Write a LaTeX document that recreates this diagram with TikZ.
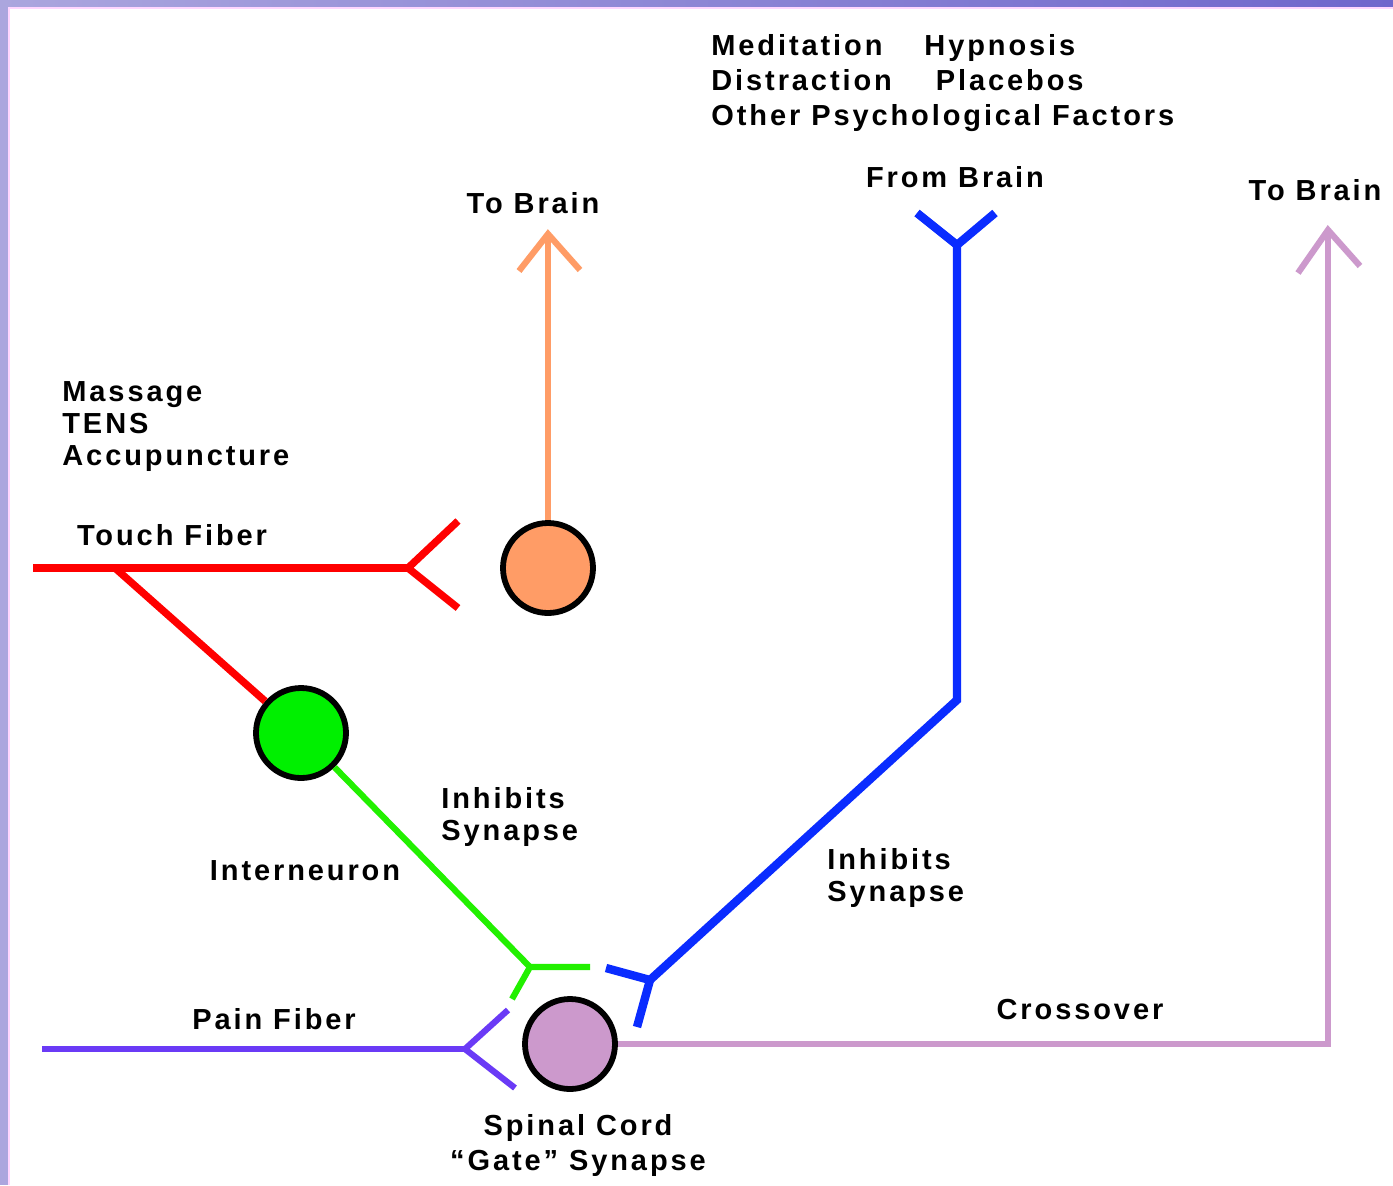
\documentclass[tikz,border=0pt]{standalone}
\usepackage{fontspec}
\setmainfont{Liberation Sans}[LetterSpace=10]
\usetikzlibrary{positioning}

\definecolor{touchred}{HTML}{FF0000}
\definecolor{projorange}{HTML}{FF9C66}
\definecolor{intergreen}{HTML}{22F000}
\definecolor{cellgreen}{HTML}{00F000}
\definecolor{brainblue}{HTML}{0A2CFF}
\definecolor{painpurple}{HTML}{6A3AF6}
\definecolor{gatelilac}{HTML}{CC99CC}
\definecolor{frameA}{HTML}{ABA6DE}
\definecolor{frameB}{HTML}{6F66CC}
\definecolor{framepink}{HTML}{FFD6FF}

\begin{document}
\begin{tikzpicture}[x=0.5pt,y=-0.5pt,
	fiber/.style={line width=3.7pt,line join=miter},
	cellnode/.style={circle,draw=black,line width=2.9pt,minimum size=45pt,inner sep=0pt},
	textnode/.style={inner sep=0pt,font=\fontsize{14.5}{17.5}\selectfont\bfseries}]
	
	% frame
	\useasboundingbox (0,0) rectangle (1393,1185);
	\fill[frameA] (0,0) rectangle (1393,1185);
	\shade[left color=frameA,right color=frameB] (0,0) rectangle (1393,8);
	\fill[framepink] (8,7) rectangle (1393,1185);
	\fill[white] (10,9) rectangle (1393,1185);
	
	% cells
	\node [cellnode,fill=projorange] (proj) at (548,568) {};
	\node [cellnode,fill=cellgreen] (inter) at (301,733) {};
	\node [cellnode,fill=gatelilac] (gate) at (570,1044) {};
	
	% touch fiber
	\coordinate (touchL) at (33,568);
	\coordinate (touchB) at (115,568);
	\coordinate (touchY) at (408,568);
	\coordinate (touchU) at (458,521);
	\coordinate (touchD) at (458,608);
	% to brain
	\coordinate (projTip) at (548,234);
	\coordinate (projL) at (519,271);
	\coordinate (projR) at (580,270);
	% interneuron ending
	\coordinate (greenY) at (530,967);
	\coordinate (greenR) at (590,967);
	\coordinate (greenD) at (512,999);
	% from brain
	\coordinate (brainL) at (917,213);
	\coordinate (brainY) at (957,245);
	\coordinate (brainR) at (995,213);
	\coordinate (blueKnee) at (957,700);
	\coordinate (blueY) at (650,980);
	\coordinate (blueL) at (606,968);
	\coordinate (blueD) at (637,1027);
	% pain fiber
	\coordinate (painL) at (42,1049);
	\coordinate (painY) at (465,1049);
	\coordinate (painU) at (508,1010);
	\coordinate (painD) at (515,1088);
	% crossover
	\coordinate (crossC) at (1328,1044);
	\coordinate (crossTip) at (1328,230);
	\coordinate (crossL) at (1298,273);
	\coordinate (crossR) at (1360,266);
	
	\draw[fiber,touchred] (touchL) to (touchY);
	\draw[fiber,touchred] (touchU) -- (touchY) -- (touchD);
	\draw[fiber,touchred] (touchB) to (inter);
	
	\draw[fiber,projorange,line width=3.1pt] (proj) to (projTip);
	\draw[fiber,projorange,line width=3.1pt] (projL) -- (projTip) -- (projR);
	
	\draw[fiber,intergreen,line width=3.1pt] (inter) to (greenY);
	\draw[fiber,intergreen,line width=3.1pt] (greenR) -- (greenY) -- (greenD);
	
	\draw[fiber,brainblue,line width=4.2pt] (brainL) -- (brainY) -- (brainR);
	\draw[fiber,brainblue,line width=4.2pt] (brainY) -- (blueKnee) -- (blueY);
	\draw[fiber,brainblue,line width=4.2pt] (blueL) -- (blueY) -- (blueD);
	
	\draw[fiber,painpurple,line width=3.1pt] (painL) to (painY);
	\draw[fiber,painpurple,line width=3.1pt] (painU) -- (painY) -- (painD);
	
	\draw[fiber,gatelilac,line width=3.1pt] (gate) -- (crossC) -- (crossTip);
	\draw[fiber,gatelilac,line width=3.1pt] (crossL) -- (crossTip) -- (crossR);
	
	% labels
	\node [textnode,anchor=west,align=left] (psych) at (711,83) {Meditation\hspace{21pt}Hypnosis\\Distraction\hspace{22pt}Placebos\\Other Psychological Factors};
	\node [textnode] (fromBrain) at (955,177) {From Brain};
	\node [textnode] (toBrainA) at (533,203) {To Brain};
	\node [textnode] (toBrainB) at (1315,190) {To Brain};
	\node [textnode,anchor=west,align=left] (touchAids) at (62,427) {Massage\\[-1.5pt]TENS\\[-1.5pt]Accupuncture};
	\node [textnode] (touchLbl) at (172,535) {Touch Fiber};
	\node [textnode,anchor=west,align=left] (inhibA) at (441,817) {Inhibits\\[-1.5pt]Synapse};
	\node [textnode] (interLbl) at (305,871) {Interneuron};
	\node [textnode,anchor=west,align=left] (inhibB) at (827,878) {Inhibits\\[-1.5pt]Synapse};
	\node [textnode] (painLbl) at (274,1019) {Pain Fiber};
	\node [textnode] (crossLbl) at (1080,1009) {Crossover};
	\node [textnode,align=center] (gateLbl) at (578,1145) {Spinal Cord\\“Gate” Synapse};
\end{tikzpicture}
\end{document}
